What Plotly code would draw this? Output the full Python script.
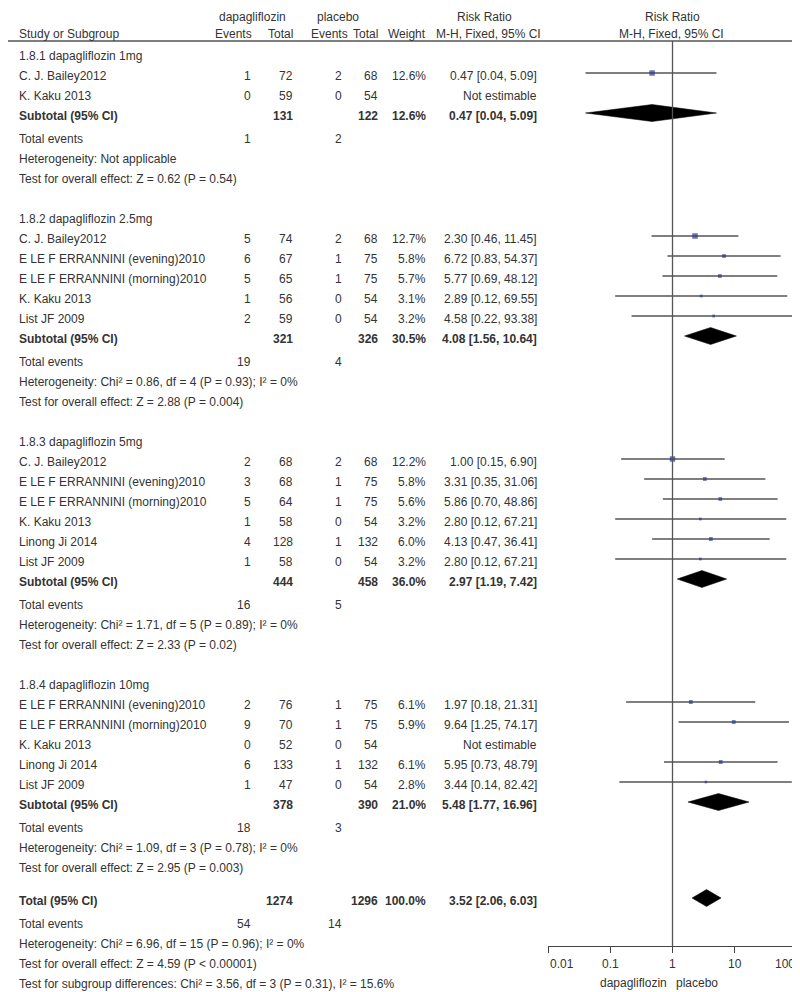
import math
import plotly.graph_objects as go

# ---------------- data ----------------
section_labels = ["1.8.1 dapagliflozin 1mg", "1.8.2 dapagliflozin 2.5mg",
                  "1.8.3 dapagliflozin 5mg", "1.8.4 dapagliflozin 10mg"]

study_section = [0, 0,
                 1, 1, 1, 1, 1,
                 2, 2, 2, 2, 2, 2,
                 3, 3, 3, 3, 3]
study_names = ["C. J. Bailey2012", "K. Kaku 2013",
               "C. J. Bailey2012", "E LE F ERRANNINI (evening)2010", "E LE F ERRANNINI (morning)2010",
               "K. Kaku 2013", "List JF 2009",
               "C. J. Bailey2012", "E LE F ERRANNINI (evening)2010", "E LE F ERRANNINI (morning)2010",
               "K. Kaku 2013", "Linong Ji 2014", "List JF 2009",
               "E LE F ERRANNINI (evening)2010", "E LE F ERRANNINI (morning)2010", "K. Kaku 2013",
               "Linong Ji 2014", "List JF 2009"]
dapa_events = [1, 0, 5, 6, 5, 1, 2, 2, 3, 5, 1, 4, 1, 2, 9, 0, 6, 1]
dapa_total = [72, 59, 74, 67, 65, 56, 59, 68, 68, 64, 58, 128, 58, 76, 70, 52, 133, 47]
pbo_events = [2, 0, 2, 1, 1, 0, 0, 2, 1, 1, 0, 1, 0, 1, 1, 0, 1, 0]
pbo_total = [68, 54, 68, 75, 75, 54, 54, 68, 75, 75, 54, 132, 54, 75, 75, 54, 132, 54]
weights = [12.6, None, 12.7, 5.8, 5.7, 3.1, 3.2, 12.2, 5.8, 5.6, 3.2, 6.0, 3.2, 6.1, 5.9, None, 6.1, 2.8]
rr = [0.47, None, 2.30, 6.72, 5.77, 2.89, 4.58, 1.00, 3.31, 5.86, 2.80, 4.13, 2.80, 1.97, 9.64, None, 5.95, 3.44]
rr_lo = [0.04, None, 0.46, 0.83, 0.69, 0.12, 0.22, 0.15, 0.35, 0.70, 0.12, 0.47, 0.12, 0.18, 1.25, None, 0.73, 0.14]
rr_hi = [5.09, None, 11.45, 54.37, 48.12, 69.55, 93.38, 6.90, 31.06, 48.86, 67.21, 36.41, 67.21, 21.31, 74.17, None, 48.79, 82.42]

sub_dapa_total = [131, 321, 444, 378]
sub_pbo_total = [122, 326, 458, 390]
sub_weight = [12.6, 30.5, 36.0, 21.0]
sub_rr = [0.47, 4.08, 2.97, 5.48]
sub_lo = [0.04, 1.56, 1.19, 1.77]
sub_hi = [5.09, 10.64, 7.42, 16.96]
sub_dapa_events = [1, 19, 16, 18]
sub_pbo_events = [2, 4, 5, 3]
sub_het = ["Heterogeneity: Not applicable",
           "Heterogeneity: Chi² = 0.86, df = 4 (P = 0.93); I² = 0%",
           "Heterogeneity: Chi² = 1.71, df = 5 (P = 0.89); I² = 0%",
           "Heterogeneity: Chi² = 1.09, df = 3 (P = 0.78); I² = 0%"]
sub_test = ["Test for overall effect: Z = 0.62 (P = 0.54)",
            "Test for overall effect: Z = 2.88 (P = 0.004)",
            "Test for overall effect: Z = 2.33 (P = 0.02)",
            "Test for overall effect: Z = 2.95 (P = 0.003)"]

total_dapa_total = 1274
total_pbo_total = 1296
total_weight = 100.0
total_rr = 3.52
total_lo = 2.06
total_hi = 6.03
total_dapa_events = 54
total_pbo_events = 14
total_het = "Heterogeneity: Chi² = 6.96, df = 15 (P = 0.96); I² = 0%"
total_test = "Test for overall effect: Z = 4.59 (P < 0.00001)"
subgroup_test = "Test for subgroup differences: Chi² = 3.56, df = 3 (P = 0.31), I² = 15.6%"

tick_vals = [0.01, 0.1, 1, 10, 100]
tick_labels = ["0.01", "0.1", "1", "10", "100"]
favours_left = "dapagliflozin"
favours_right = "placebo"

# ---------------- layout helpers ----------------
W, H = 800, 992
FONT = "Liberation Sans, Arial, sans-serif"
TXT = "#333333"
LINE = "#555555"
FS = 12

X_NAME = 9
X_DE, X_DT, X_PE, X_PT, X_W, X_RR = 245, 287, 336, 372, 420, 531
AXIS_Y = 938
HEADER_LINE_Y = 33
P = 20
MK_OFF = -3

annotations = []


def txt(x, y, s, anchor="left", bold=False, size=FS, xref="paper"):
    annotations.append(dict(
        x=(x / W) if xref == "paper" else x, y=y, xref=xref, yref="y",
        text=("<b>%s</b>" % s) if bold else s,
        showarrow=False, xanchor=anchor, yanchor="middle", align=anchor,
        font=dict(family=FONT, size=size, color=TXT)))


def fmt_rr(v, lo, hi):
    return "%.2f [%.2f, %.2f]" % (v, lo, hi)


fig = go.Figure()

# headers
txt(244, 9, "dapagliflozin", "center")
txt(330, 9, "placebo", "center")
txt(476, 9, "Risk Ratio", "center")
txt(664, 9, "Risk Ratio", "center")
txt(X_NAME, 26, "Study or Subgroup")
txt(X_DE + 1, 26, "Events", "right")
txt(X_DT, 26, "Total", "right")
txt(X_PE + 6, 26, "Events", "right")
txt(X_PT, 26, "Total", "right")
txt(X_W, 26, "Weight", "right")
txt(X_RR + 4, 26, "M-H, Fixed, 95% CI", "right")
txt(663, 26, "M-H, Fixed, 95% CI", "center")

# rows
ci_x, ci_y = [], []
sq_x, sq_y, sq_s = [], [], []
diamonds = []

y = 48
for s, label in enumerate(section_labels):
    txt(X_NAME, y, label)
    y += P
    for i in range(len(study_names)):
        if study_section[i] != s:
            continue
        txt(X_NAME, y, study_names[i])
        txt(X_DE, y, str(dapa_events[i]), "right")
        txt(X_DT, y, str(dapa_total[i]), "right")
        txt(X_PE, y, str(pbo_events[i]), "right")
        txt(X_PT, y, str(pbo_total[i]), "right")
        if rr[i] is None:
            txt(X_RR, y, "Not estimable", "right")
        else:
            txt(X_W, y, "%.1f%%" % weights[i], "right")
            txt(X_RR, y, fmt_rr(rr[i], rr_lo[i], rr_hi[i]), "right")
            ci_x += [rr_lo[i], rr_hi[i], None]
            ci_y += [y + MK_OFF, y + MK_OFF, None]
            sq_x.append(rr[i])
            sq_y.append(y + MK_OFF)
            sq_s.append(1.55 * weights[i] ** 0.5)
        y += P
    txt(X_NAME, y, "Subtotal (95% CI)", bold=True)
    txt(X_DT, y, str(sub_dapa_total[s]), "right", bold=True)
    txt(X_PT, y, str(sub_pbo_total[s]), "right", bold=True)
    txt(X_W, y, "%.1f%%" % sub_weight[s], "right", bold=True)
    txt(X_RR, y, fmt_rr(sub_rr[s], sub_lo[s], sub_hi[s]), "right", bold=True)
    diamonds.append((sub_rr[s], sub_lo[s], sub_hi[s], y + MK_OFF))
    y += P + 3
    txt(X_NAME, y, "Total events")
    txt(X_DE, y, str(sub_dapa_events[s]), "right")
    txt(X_PE, y, str(sub_pbo_events[s]), "right")
    y += P
    txt(X_NAME, y, sub_het[s])
    y += P
    txt(X_NAME, y, sub_test[s])
    if s < len(section_labels) - 1:
        y += 2 * P

y += 33
txt(X_NAME, y, "Total (95% CI)", bold=True)
txt(X_DT, y, str(total_dapa_total), "right", bold=True)
txt(X_PT, y, str(total_pbo_total), "right", bold=True)
txt(X_W, y, "%.1f%%" % total_weight, "right", bold=True)
txt(X_RR, y, fmt_rr(total_rr, total_lo, total_hi), "right", bold=True)
diamonds.append((total_rr, total_lo, total_hi, y + MK_OFF))
y += P + 3
txt(X_NAME, y, "Total events")
txt(X_DE, y, str(total_dapa_events), "right")
txt(X_PE, y, str(total_pbo_events), "right")
y += P
txt(X_NAME, y, total_het)
y += P
txt(X_NAME, y, total_test)
y += P
txt(X_NAME, y, subgroup_test)

# axis tick labels (log axis: annotation x is given in log10 units); end labels kept inside the axis span
for k, (tv, tl) in enumerate(zip(tick_vals, tick_labels)):
    anc = "left" if k == 0 else ("right" if k == len(tick_vals) - 1 else "center")
    txt(math.log10(tv), AXIS_Y + 18, tl, anc, size=12, xref="x")
txt(625, 975, favours_left, "center", size=12)
txt(689, 975, favours_right, "center", size=12)

# CI lines
fig.add_trace(go.Scatter(x=ci_x, y=ci_y, mode="lines",
                         line=dict(color=LINE, width=1.3), hoverinfo="skip", showlegend=False))
# squares
fig.add_trace(go.Scatter(x=sq_x, y=sq_y, mode="markers",
                         marker=dict(symbol="square", size=sq_s, color="#2B3990", line=dict(width=0)),
                         showlegend=False))
# diamonds
DH = 8.5
for est, lo, hi, yy in diamonds:
    fig.add_trace(go.Scatter(x=[lo, est, hi, est, lo], y=[yy, yy - DH, yy, yy + DH, yy],
                             mode="lines", fill="toself", fillcolor="#000000",
                             line=dict(color="#000000", width=0.5), hoverinfo="skip", showlegend=False))

shapes = [
    dict(type="line", xref="paper", yref="y", x0=0, x1=1, y0=HEADER_LINE_Y, y1=HEADER_LINE_Y,
         line=dict(color=LINE, width=1.5)),
    dict(type="line", xref="x", yref="y", x0=1, x1=1, y0=HEADER_LINE_Y, y1=AXIS_Y,
         line=dict(color=LINE, width=1.3)),
]

fig.update_layout(
    width=W, height=H, margin=dict(l=0, r=0, t=0, b=0),
    plot_bgcolor="white", paper_bgcolor="white",
    annotations=annotations, shapes=shapes, showlegend=False,
    xaxis=dict(type="log", range=[-2, 2], domain=[540 / W, 789 / W], anchor="free",
               position=1 - AXIS_Y / H, showline=True, linecolor="#444444", linewidth=1.3,
               ticks="outside", ticklen=6, tickwidth=1.3, tickcolor="#444444",
               tickvals=tick_vals, showticklabels=False, showgrid=False, zeroline=False),
    yaxis=dict(range=[H, 0], domain=[0, 1], visible=False, showgrid=False, zeroline=False),
)

fig.write_html("out.html")
